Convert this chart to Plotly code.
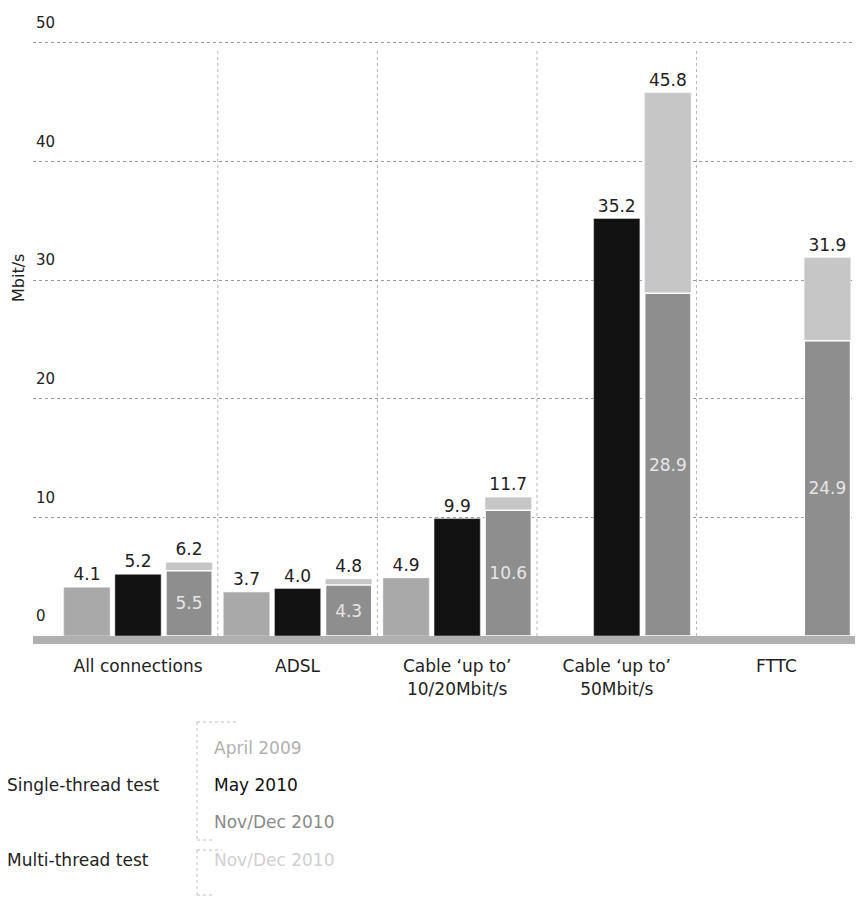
import plotly.graph_objects as go

categories = ["All connections", "ADSL", "Cable \u2018up to\u2019<br>10/20Mbit/s",
              "Cable \u2018up to\u2019<br>50Mbit/s", "FTTC"]
series_names = ["April 2009", "May 2010", "Nov/Dec 2010", "Nov/Dec 2010"]
april_2009 = [4.1, 3.7, 4.9, None, None]
may_2010 = [5.2, 4.0, 9.9, 35.2, None]
novdec_2010_single = [5.5, 4.3, 10.6, 28.9, 24.9]
novdec_2010_multi = [6.2, 4.8, 11.7, 45.8, 31.9]
y_ticks = [0, 10, 20, 30, 40, 50]
y_title = "Mbit/s"
legend_groups = ["Single-thread test", "Multi-thread test"]

FONT = "DejaVu Sans"
x = list(range(len(categories)))
W = 0.29
Y_TOP = 52.95  # extra headroom so the top tick label stays visible

fig = go.Figure()

def fmt(v):
    return "" if v is None else f"{v:.1f}"

lab = dict(size=17, color="#222", family=FONT)
fig.add_trace(go.Bar(x=x, y=april_2009, name=series_names[0], offset=-0.465, width=W,
                     marker=dict(color="#a9a9a9"),
                     text=[fmt(v) for v in april_2009], textposition="outside",
                     textfont=lab, cliponaxis=False))
fig.add_trace(go.Bar(x=x, y=may_2010, name=series_names[1], offset=-0.145, width=W,
                     marker=dict(color="#121212"),
                     text=[fmt(v) for v in may_2010], textposition="outside",
                     textfont=lab, cliponaxis=False))
fig.add_trace(go.Bar(x=x, y=novdec_2010_multi, name=series_names[3], offset=0.175, width=W,
                     marker=dict(color="#c6c6c6"),
                     text=[fmt(v) for v in novdec_2010_multi], textposition="outside",
                     textfont=lab, cliponaxis=False))
fig.add_trace(go.Bar(x=x, y=novdec_2010_single, name=series_names[2], offset=0.175, width=W,
                     marker=dict(color="#8e8e8e", line=dict(color="white", width=1.5)),
                     text=[fmt(v) for v in novdec_2010_single], textposition="inside",
                     insidetextanchor="middle",
                     textfont=dict(size=17, color="#e6e6e6", family=FONT), cliponaxis=False))

# page body has an 8px margin: figure is offset by (8, 8) in the window
fig.update_layout(
    width=855, height=889,
    margin=dict(l=25, r=0, t=0, b=261, autoexpand=False),
    barmode="overlay",
    showlegend=False,
    plot_bgcolor="white", paper_bgcolor="white",
    font=dict(family=FONT, size=16, color="#222"),
)
fig.update_xaxes(range=[-0.658, 4.543], tickmode="array", tickvals=x, ticktext=categories,
                 showgrid=False, zeroline=False, ticks="", automargin=False,
                 showline=True, linecolor="#b0b0b0", linewidth=8,
                 ticklabelstandoff=8, tickfont=dict(size=17, color="#222"))
fig.update_yaxes(range=[0, Y_TOP], tickmode="array", tickvals=y_ticks, automargin=False,
                 showgrid=True, gridcolor="#9a9a9a", griddash="dot", gridwidth=1,
                 zeroline=False, showline=False, ticks="",
                 ticklabelposition="inside", ticklabelshift=-20, ticklabelstandoff=0,
                 tickfont=dict(size=15, color="#222"))

# group separators
for i in range(len(categories) - 1):
    fig.add_shape(type="line", xref="x", yref="y", x0=i + 0.5, x1=i + 0.5,
                  y0=0, y1=y_ticks[-1] - 0.5, layer="below",
                  line=dict(color="#b5b5b5", width=1, dash="dot"))

def py(p):
    return (636 - p) / 628.0

def px(p):
    return (p - 33) / 830.0

fig.add_annotation(text=y_title, textangle=-90, xref="paper", yref="paper",
                   x=px(18), y=py(278), xanchor="center", yanchor="middle",
                   showarrow=False, font=dict(size=16, color="#222"))

ann = [
    (legend_groups[0], 5, 785, "#222"),
    (legend_groups[1], 5, 860, "#222"),
    (series_names[0], 212, 748, "#b0b0b0"),
    (series_names[1], 212, 785, "#111"),
    (series_names[2], 212, 822, "#8a8a8a"),
    (series_names[3], 212, 860, "#d0d0d0"),
]
for t, xx, yy, c in ann:
    fig.add_annotation(text=t, xref="paper", yref="paper", x=px(xx), y=py(yy),
                       xanchor="left", yanchor="middle", showarrow=False,
                       font=dict(size=17, color=c))

line = dict(color="#c0c0c0", width=1, dash="dot")
for x0, y0, x1, y1 in [(197, 722, 237, 722), (197, 722, 197, 840), (197, 840, 215, 840),
                       (197, 850, 222, 850), (197, 850, 197, 895), (197, 895, 215, 895)]:
    fig.add_shape(type="line", xref="paper", yref="paper",
                  x0=px(x0), y0=py(y0), x1=px(x1), y1=py(y1), line=line)

fig.write_html("out.html")
